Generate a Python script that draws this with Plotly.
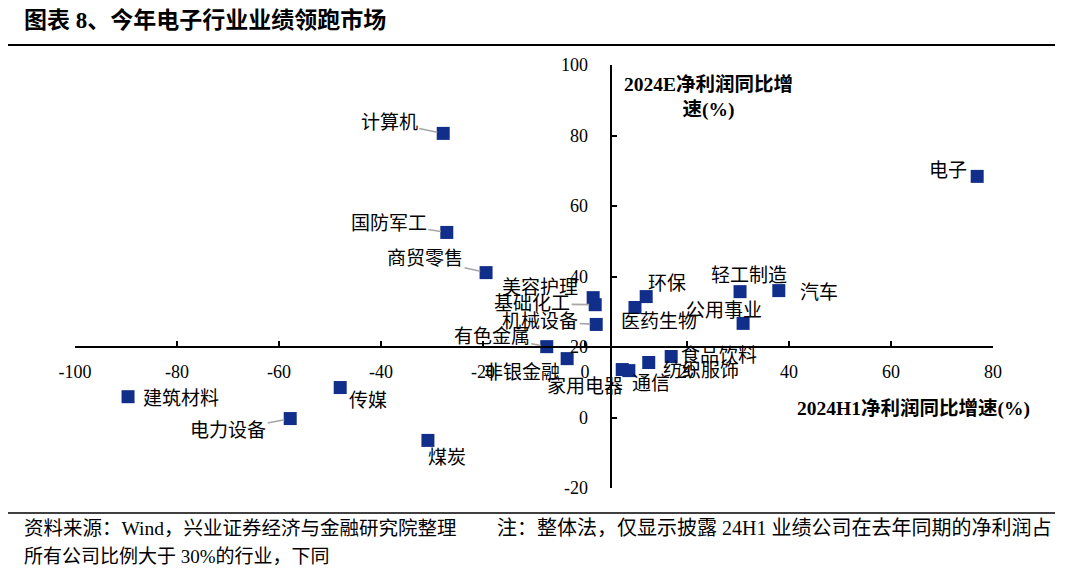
import plotly.graph_objects as go

# ---------------- data ----------------
industries = ["计算机", "国防军工", "商贸零售", "电子", "美容护理", "基础化工", "机械设备",
              "有色金属", "非银金融", "医药生物", "环保", "轻工制造", "汽车", "公用事业",
              "食品饮料", "纺织服饰", "家用电器", "通信", "建筑材料", "传媒", "电力设备", "煤炭"]
growth_2024h1 = [-27.8, -27.1, -19.4, 76.9, 1.6, 2.0, 2.2,
                 -7.5, -3.5, 9.8, 12.0, 30.4, 38.0, 31.0,
                 16.9, 12.5, 7.3, 8.6, -89.6, -48.0, -57.8, -30.8]
growth_2024e = [80.6, 52.5, 41.1, 68.4, 34.0, 32.0, 26.4,
                20.1, 16.7, 31.2, 34.3, 35.7, 36.0, 26.7,
                17.3, 15.6, 13.6, 13.3, 5.9, 8.5, -0.3, -6.5]
x_ticks = [-100, -80, -60, -40, -20, 0, 20, 40, 60, 80]
y_ticks = [-20, 0, 20, 40, 60, 80, 100]
x_cross = 5    # vertical axis crosses here
y_cross = 20   # horizontal axis crosses here

# ---------------- label placement (pixel offsets, screen y down; leader flag) ----------------
label_style = {
    "计算机": (-54, -11, True), "国防军工": (-58, -9, True), "商贸零售": (-61, -14, True),
    "电子": (-29, -6, False), "美容护理": (-53, -10, False), "基础化工": (-63, -1, True),
    "机械设备": (-56, -3, True), "有色金属": (-55, -10, True), "非银金融": (-45, 14, False),
    "医药生物": (24, 14, False), "环保": (21, -13, False), "轻工制造": (9, -16, False),
    "汽车": (40, 2, False), "公用事业": (-19, -13, False), "食品饮料": (48, -1, False),
    "纺织服饰": (52, 8, False), "家用电器": (-37, 17, False), "通信": (22, 13, False),
    "建筑材料": (53, 2, False), "传媒": (28, 13, False), "电力设备": (-62, 12, True),
    "煤炭": (19, 17, False),
}

OFF = 8                      # default page margin of the html body
W, H = 1065 - OFF, 573 - OFF
L, T = 75 - OFF, 65 - OFF    # plot area starts at page (75, 65)
PW, PH = 918, 423
R, B = W - L - PW, H - T - PH
XR = [-100, 80]
YR = [-20, 100]

def px(x):
    # page pixel -> paper x
    return (x - OFF - L) / PW

def py(y):
    # page pixel -> paper y
    return (T + PH - (y - OFF)) / PH

CJK = "Liberation Serif, Noto Sans CJK SC, serif"
NAVY = "#102e8a"
LBL = 19

fig = go.Figure()
fig.add_trace(go.Scatter(
    x=growth_2024h1, y=growth_2024e, mode="markers",
    marker=dict(symbol="square", size=13, color=NAVY, line=dict(width=0)),
    hovertext=industries, showlegend=False,
))

annotations = []
for name, xv, yv in zip(industries, growth_2024h1, growth_2024e):
    dx, dy, leader = label_style[name]
    if leader:
        annotations.append(dict(x=xv, y=yv, xref="x", yref="y", text=name, showarrow=True,
                                ax=dx, ay=dy, arrowhead=0, arrowwidth=1.6, arrowcolor="#a6a6a6",
                                standoff=6, font=dict(family=CJK, size=LBL, color="black")))
    else:
        annotations.append(dict(x=xv, y=yv, xref="x", yref="y", text=name, showarrow=False,
                                xshift=dx, yshift=-dy, font=dict(family=CJK, size=LBL, color="black")))

# title
annotations.append(dict(x=px(22), y=py(20), xref="paper", yref="paper", xanchor="left", yanchor="middle",
                        text="<b>图表 8、今年电子行业业绩领跑市场</b>", showarrow=False,
                        font=dict(family=CJK, size=23, color="black")))
# axis titles
annotations.append(dict(x=px(708), y=py(97), xref="paper", yref="paper", xanchor="center", yanchor="middle",
                        text="<b>2024E净利润同比增<br>速(%)</b>", showarrow=False, align="center",
                        font=dict(family=CJK, size=19.5, color="black")))
annotations.append(dict(x=px(1032), y=py(408), xref="paper", yref="paper", xanchor="right", yanchor="middle",
                        text="<b>2024H1净利润同比增速(%)</b>", showarrow=False,
                        font=dict(family=CJK, size=19.5, color="black")))
# footer
annotations.append(dict(x=px(22), y=py(528), xref="paper", yref="paper", xanchor="left", yanchor="middle",
                        text="资料来源：Wind，兴业证券经济与金融研究院整理", showarrow=False,
                        font=dict(family=CJK, size=19.5, color="black")))
annotations.append(dict(x=px(495), y=py(528), xref="paper", yref="paper", xanchor="left", yanchor="middle",
                        text="注：整体法，仅显示披露 24H1 业绩公司在去年同期的净利润占", showarrow=False,
                        font=dict(family=CJK, size=20, color="black")))
annotations.append(dict(x=px(22), y=py(556), xref="paper", yref="paper", xanchor="left", yanchor="middle",
                        text="所有公司比例大于 30%的行业，下同", showarrow=False,
                        font=dict(family=CJK, size=19, color="black")))

shapes = [
    dict(type="line", xref="paper", yref="paper", x0=px(8), x1=px(1055), y0=py(45), y1=py(45),
         line=dict(color="black", width=2)),
    dict(type="line", xref="paper", yref="paper", x0=px(8), x1=px(1055), y0=py(513), y1=py(513),
         line=dict(color="black", width=1.5)),
]

fig.update_layout(
    width=W, height=H, margin=dict(l=L, r=R, t=T, b=B, autoexpand=False),
    paper_bgcolor="white", plot_bgcolor="white",
    annotations=annotations, shapes=shapes,
    xaxis=dict(range=XR, tickvals=x_ticks, ticktext=[str(v) for v in x_ticks],
               showgrid=False, zeroline=False, showline=True, linecolor="black", linewidth=2,
               ticks="inside", ticklen=5, tickwidth=2, tickcolor="black",
               anchor="free", position=(y_cross - YR[0]) / (YR[1] - YR[0]),
               ticklabelstandoff=8,
               tickfont=dict(family="Liberation Serif, serif", size=18, color="black")),
    yaxis=dict(range=YR, tickvals=y_ticks, ticktext=[str(v) for v in y_ticks],
               showgrid=False, zeroline=False, showline=True, linecolor="black", linewidth=2,
               ticks="inside", ticklen=5, tickwidth=2, tickcolor="black",
               anchor="free", position=(x_cross - XR[0]) / (XR[1] - XR[0]),
               ticklabelstandoff=18,
               tickfont=dict(family="Liberation Serif, serif", size=18, color="black")),
    font=dict(family=CJK),
)

fig.write_html("out.html")
